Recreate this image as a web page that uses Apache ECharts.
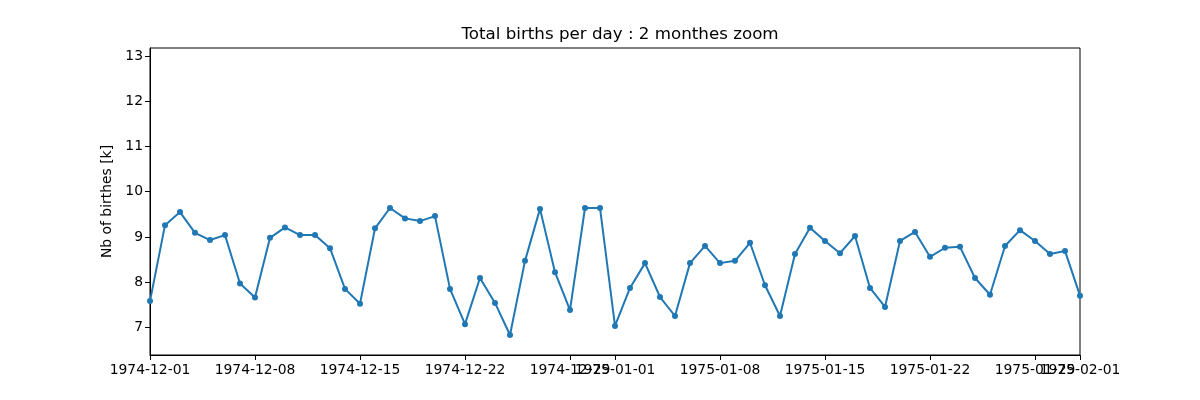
<!DOCTYPE html>
<html>
<head>
<meta charset="utf-8">
<script src="https://cdn.jsdelivr.net/npm/echarts@6/dist/echarts.min.js"></script>
<style>html,body{margin:0;padding:0;background:#fff}#c{width:1200px;height:400px}</style>
</head>
<body>
<div id="c"></div>
<script>
const startDate = [1974, 11, 1]; // 1974-12-01 (month 0-based)
const births = [
  7.58, 9.26, 9.55, 9.09, 8.93, 9.04, 7.97, 7.66, 8.98, 9.21,
  9.04, 9.04, 8.75, 7.85, 7.52, 9.19, 9.64, 9.41, 9.35, 9.46,
  7.85, 7.07, 8.09, 7.54, 6.83, 8.47, 9.62, 8.22, 7.38, 9.64,
  9.64, 7.03, 7.87, 8.42, 7.67, 7.25, 8.42, 8.80, 8.42, 8.47,
  8.87, 7.93, 7.25, 8.62, 9.20, 8.91, 8.64, 9.02, 7.87, 7.45,
  8.91, 9.11, 8.56, 8.76, 8.78, 8.09, 7.72, 8.80, 9.15, 8.91,
  8.62, 8.69, 7.70
];
const xTickDates = ['1974-12-01','1974-12-08','1974-12-15','1974-12-22','1974-12-29',
  '1975-01-01','1975-01-08','1975-01-15','1975-01-22','1975-01-29','1975-02-01'];
const yTicks = [7, 8, 9, 10, 11, 12, 13];

const DAY = 86400000;
const t0 = Date.UTC(startDate[0], startDate[1], startDate[2]);
const seriesData = births.map((v, i) => [t0 + i * DAY, v]);
const parse = s => { const p = s.split('-').map(Number); return Date.UTC(p[0], p[1] - 1, p[2]); };
const xTicks = xTickDates.map(parse);
const tMax = xTicks[xTicks.length - 1];
const pad = n => (n < 10 ? '0' : '') + n;
const fmt = v => { const d = new Date(v); return d.getUTCFullYear() + '-' + pad(d.getUTCMonth() + 1) + '-' + pad(d.getUTCDate()); };

const font = 'DejaVu Sans';
const labelStyle = {formatter: fmt, hideOverlap: false, fontFamily: font, fontSize: 13.9, color: '#000', margin: 8};
const chart = echarts.init(document.getElementById('c'), null, {renderer: 'canvas'});
chart.setOption({
  animation: false,
  backgroundColor: '#fff',
  title: {
    text: 'Total births per day : 2 monthes zoom',
    left: 615, top: 21, textAlign: 'center',
    textStyle: {fontFamily: font, fontSize: 16.7, fontWeight: 'normal', color: '#000'}
  },
  grid: {left: 150, right: 120, top: 48, bottom: 45, show: true, borderColor: '#000', borderWidth: 1, backgroundColor: 'transparent'},
  xAxis: [{
    type: 'value', position: 'bottom',
    min: t0, max: tMax,
    axisLine: {show: true, lineStyle: {color: '#000', width: 1}},
    axisTick: {show: true, customValues: xTicks, length: 5, lineStyle: {color: '#000'}},
    axisLabel: Object.assign({customValues: xTicks.slice(0, -1)}, labelStyle),
    splitLine: {show: false}
  }, {
    type: 'value', position: 'bottom', offset: 0,
    min: t0, max: tMax,
    axisLine: {show: false},
    axisTick: {show: false},
    axisLabel: Object.assign({customValues: [tMax]}, labelStyle),
    splitLine: {show: false}
  }],
  yAxis: {
    type: 'value',
    min: 6.387, max: 13.18,
    name: 'Nb of birthes [k]', nameLocation: 'middle', nameGap: 36,
    nameTextStyle: {fontFamily: font, fontSize: 13.9, color: '#000'},
    axisLine: {show: true, lineStyle: {color: '#000', width: 1}},
    axisTick: {show: true, customValues: yTicks, length: 5, lineStyle: {color: '#000'}},
    axisLabel: {customValues: yTicks, fontFamily: font, fontSize: 13.9, color: '#000', margin: 7},
    splitLine: {show: false}
  },
  series: [{
    type: 'line',
    xAxisIndex: 0,
    data: seriesData,
    symbol: 'circle', symbolSize: 6,
    lineStyle: {color: '#1f77b4', width: 2},
    itemStyle: {color: '#1f77b4'},
    clip: true
  }]
});
</script>
</body>
</html>
